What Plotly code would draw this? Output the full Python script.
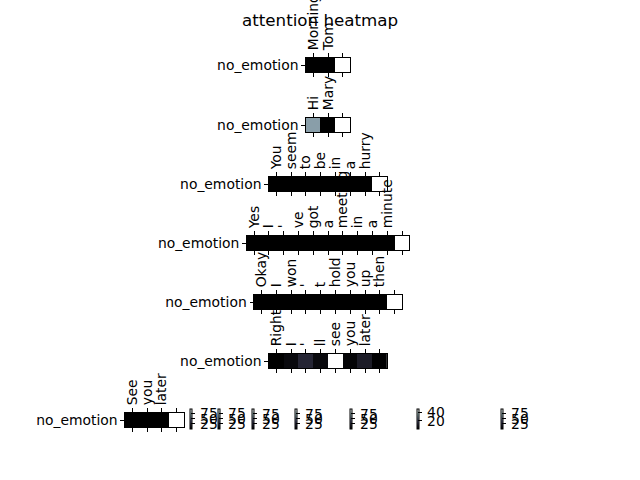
import plotly.graph_objects as go

# ---- data ----
row_label = "no_emotion"
tokens_1 = ["Morning", "Tom", ""]
tokens_2 = ["Hi", "Mary", ""]
tokens_3 = ["You", "seem", "to", "be", "in", "a", "hurry", ""]
tokens_4 = ["Yes", "I", "'", "ve", "got", "a", "meeting", "in", "a", "minute", ""]
tokens_5 = ["Okay", "I", "won", "'", "t", "hold", "you", "up", "then", ""]
tokens_6 = ["Right", "I", "'", "ll", "see", "you", "later", ""]
tokens_7 = ["See", "you", "later", ""]

values_1 = [0.8, 1.0, 97.0]
values_2 = [60.0, 0.5, 97.0]
values_3 = [0.3, 0.3, 0.3, 0.3, 0.3, 0.3, 0.3, 99.0]
values_4 = [0.5, 0.5, 0.5, 0.5, 0.5, 0.5, 0.5, 0.5, 0.5, 0.5, 98.0]
values_5 = [0.2, 0.2, 0.2, 0.2, 0.2, 0.2, 0.2, 0.2, 0.2, 99.0]
values_6 = [0.5, 2.5, 8.5, 2.5, 48.0, 1.5, 6.5, 0.6]
values_7 = [0.5, 0.5, 0.5, 97.0]

cbar_ticks_1 = [25, 50, 75]
cbar_ticks_2 = [25, 50, 75]
cbar_ticks_3 = [0, 25, 50, 75]
cbar_ticks_4 = [25, 50, 75]
cbar_ticks_5 = [0, 25, 50, 75]
cbar_ticks_6 = [20, 40]
cbar_ticks_7 = [25, 50, 75]

tokens = [tokens_1, tokens_2, tokens_3, tokens_4, tokens_5, tokens_6, tokens_7]
values = [values_1, values_2, values_3, values_4, values_5, values_6, values_7]
cbar_ticks = [cbar_ticks_1, cbar_ticks_2, cbar_ticks_3, cbar_ticks_4,
              cbar_ticks_5, cbar_ticks_6, cbar_ticks_7]

# ---- layout geometry (pixels) ----
W, H = 640, 480
CELL = 14.8
centers_x = [328, 328, 328, 328, 328, 328, 154.5]
centers_y = [65, 125, 184, 243, 302, 361, 420]
cbar_x = [190, 218, 252, 295, 350, 417, 501]
cbar_y = 419

bone = [
    [0.0, "rgb(0,0,0)"],
    [0.365079, "rgb(81,81,113)"],
    [0.746032, "rgb(166,198,198)"],
    [1.0, "rgb(255,255,255)"],
]

FONT = "DejaVu Sans"
FS = 13.9

fig = go.Figure()
layout_axes = {}
for i, (tok, val, ticks) in enumerate(zip(tokens, values, cbar_ticks)):
    k = "" if i == 0 else str(i + 1)
    n = len(tok)
    fig.add_trace(go.Heatmap(
        z=[val],
        x=list(range(n)),
        y=[row_label],
        colorscale=bone,
        xaxis="x" + k,
        yaxis="y" + k,
        showscale=True,
        colorbar=dict(
            x=cbar_x[i] / W, xanchor="left", xpad=0,
            y=1 - cbar_y / H, yanchor="middle", ypad=0,
            lenmode="pixels", len=20,
            thicknessmode="pixels", thickness=1,
            outlinewidth=1, outlinecolor="black",
            ticks="outside", ticklen=3.5, tickwidth=1, tickcolor="black",
            tickmode="array", tickvals=ticks,
            ticktext=["\u2009" + str(t) for t in ticks],
            tickfont=dict(family=FONT, size=FS, color="black"),
        ),
    ))
    x0 = (centers_x[i] - n * CELL / 2) / W
    x1 = (centers_x[i] + n * CELL / 2) / W
    y0 = 1 - (centers_y[i] + CELL / 2) / H
    y1 = 1 - (centers_y[i] - CELL / 2) / H
    layout_axes["xaxis" + k] = dict(
        domain=[x0, x1], anchor="y" + k, side="top",
        range=[-0.5, n - 0.5],
        tickmode="array", tickvals=list(range(n)), ticktext=tok,
        tickangle=-90, ticks="outside", ticklen=3.5, tickwidth=1, tickcolor="black",
        showline=True, linecolor="black", linewidth=1, mirror="ticks",
        showgrid=False, zeroline=False,
        tickfont=dict(family=FONT, size=FS, color="black"),
    )
    layout_axes["yaxis" + k] = dict(
        domain=[y0, y1], anchor="x" + k,
        range=[-0.5, 0.5],
        ticks="outside", ticklen=3.5, tickwidth=1, tickcolor="black",
        showline=True, linecolor="black", linewidth=1, mirror=True,
        showgrid=False, zeroline=False,
        tickfont=dict(family=FONT, size=FS, color="black"),
    )

fig.update_layout(
    width=W, height=H,
    margin=dict(l=0, r=0, t=0, b=0, autoexpand=False),
    paper_bgcolor="white", plot_bgcolor="white",
    showlegend=False,
    annotations=[dict(
        text="attention heatmap", x=0.5, y=1 - 8 / H,
        xref="paper", yref="paper", xanchor="center", yanchor="top",
        showarrow=False, font=dict(family=FONT, size=16.7, color="black"),
    )],
    **layout_axes,
)

fig.write_html("out.html", config={"displayModeBar": False},
               post_script="document.body.style.margin='0';")
